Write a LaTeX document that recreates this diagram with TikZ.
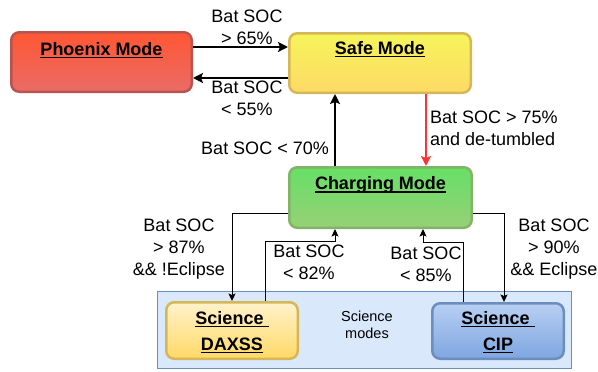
\documentclass[tikz,border=0pt]{standalone}
\usepackage{fontspec}
\setmainfont{Liberation Sans}
\usetikzlibrary{arrows.meta}

% underline with a thicker rule for the mode titles
\newcommand\modeul[1]{\setbox0\hbox{#1}\rlap{\rule[-3pt]{\wd0}{1.3pt}}\box0}

\definecolor{phxTop}{HTML}{FF5733}
\definecolor{phxBot}{HTML}{EA6B66}
\definecolor{phxLine}{HTML}{B85450}
\definecolor{safeTop}{HTML}{F5F55A}
\definecolor{safeBot}{HTML}{FFD966}
\definecolor{yelLine}{HTML}{D6B656}
\definecolor{chgTop}{HTML}{66E066}
\definecolor{chgBot}{HTML}{97D077}
\definecolor{chgLine}{HTML}{82B366}
\definecolor{daxTop}{HTML}{FFF2CC}
\definecolor{daxBot}{HTML}{FFD966}
\definecolor{cipTop}{HTML}{B8CFF3}
\definecolor{cipBot}{HTML}{7EA6E0}
\definecolor{bluLine}{HTML}{6C8EBF}
\definecolor{grpFill}{HTML}{DAE8FC}
\definecolor{redArrow}{HTML}{FF3333}

\begin{document}
\begin{tikzpicture}[x=1pt,y=-1pt,
  modebox/.style={draw, rounded corners=8pt, line width=2.5pt, inner sep=0pt},
  title/.style={font=\fontsize{18}{26}\selectfont\bfseries, align=center, inner sep=0pt},
  cond/.style={font=\fontsize{18}{22}\selectfont, align=center, inner sep=0pt},
  bigarrow/.style={line width=2pt, -{Stealth[length=10pt,width=10pt,inset=2pt]}},
  smallarrow/.style={line width=1pt, -{Stealth[length=7.5pt,width=7pt,inset=1.5pt]}}]
\useasboundingbox (0,0) rectangle (598,372);

% science group container
\node[draw=bluLine, fill=grpFill, line width=1.2pt, minimum width=414pt, minimum height=77pt, inner sep=0pt] (group) at (364.5,330) {};
\node[font=\fontsize{14.5}{17}\selectfont, align=center, inner sep=0pt] (grouplbl) at (367,325) {Science\\modes};

% mode boxes
\node[modebox, draw=phxLine, top color=phxTop, bottom color=phxBot, minimum width=180.5pt, minimum height=59.5pt] (phoenix) at (101.5,62) {};
\node[modebox, draw=yelLine, top color=safeTop, bottom color=safeBot, minimum width=181.5pt, minimum height=59.5pt] (safe) at (380,63) {};
\node[modebox, draw=chgLine, top color=chgTop, bottom color=chgBot, minimum width=182.5pt, minimum height=60.5pt] (charging) at (380.5,197.5) {};
\node[modebox, draw=yelLine, top color=daxTop, bottom color=daxBot, minimum width=131.5pt, minimum height=56.5pt] (daxss) at (232,330.5) {};
\node[modebox, draw=bluLine, top color=cipTop, bottom color=cipBot, minimum width=131.5pt, minimum height=55.5pt] (cip) at (498,331) {};

% titles
\node[title] (phoenixT) at (101.5,50) {\modeul{Phoenix Mode}};
\node[title] (safeT) at (380,49) {\modeul{Safe Mode}};
\node[title] (chargingT) at (380.5,185) {\modeul{Charging Mode}};
\node[title] (daxssT) at (232,332) {\modeul{Science\ }\\\modeul{DAXSS}};
\node[title] (cipT) at (498,332) {\modeul{Science\ }\\\modeul{CIP}};

% transitions between safe, phoenix and charging
\draw[bigarrow] ([yshift=15pt]phoenix.east) -- ([yshift=16pt]safe.west);
\draw[bigarrow] ([yshift=-15pt]safe.west) -- ([yshift=-16pt]phoenix.east);
\draw[bigarrow] ([xshift=-45.5pt]charging.north) -- ([xshift=-45pt]safe.south);
\draw[bigarrow, draw=redArrow, fill=redArrow] ([xshift=46pt]safe.south) -- ([xshift=45.5pt]charging.north);

% transitions to and from science modes
\draw[smallarrow] ([yshift=-15.5pt]charging.west) -| (daxss.north);
\draw[smallarrow] ([xshift=33pt]daxss.north) -- ++(0,-60) -| ([xshift=-45.5pt]charging.south);
\draw[smallarrow] ([xshift=-35pt]cip.north) -- ++(0,-60) -| ([xshift=42.5pt]charging.south);
\draw[smallarrow] ([yshift=-15.5pt]charging.east) -| ([xshift=6pt]cip.north);

% conditions
\node[cond] (c65) at (247,27) {Bat SOC\\> 65\%};
\node[cond] (c55) at (247,98) {Bat SOC\\< 55\%};
\node[cond, anchor=east] (c70) at (329,148) {Bat SOC < 70\%};
\node[cond, anchor=west, align=left] (c75) at (430,128) {Bat SOC > 75\%\\and de-tumbled};
\node[cond] (c87) at (179,249) {Bat SOC\\> 87\%\\\&\& !Eclipse};
\node[cond] (c82) at (309,262) {Bat SOC\\< 82\%};
\node[cond] (c85) at (426,264) {Bat SOC\\< 85\%};
\node[cond] (c90) at (554,249) {Bat SOC\\> 90\%\\\&\& Eclipse};
\end{tikzpicture}
\end{document}
